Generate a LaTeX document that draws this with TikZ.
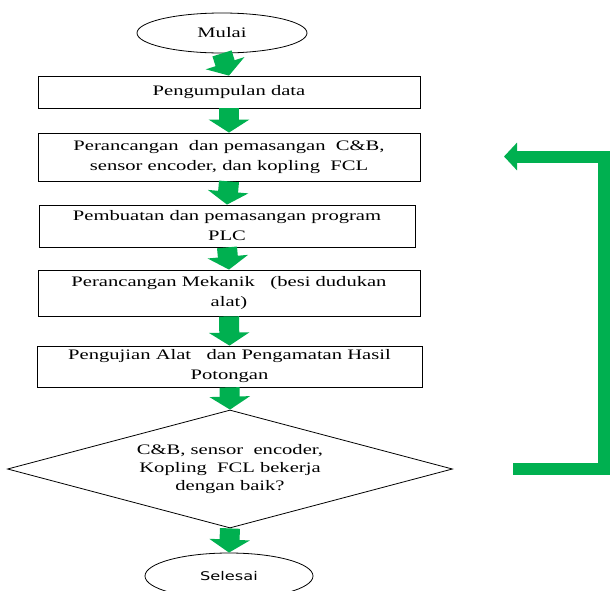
\documentclass[tikz,border=0pt]{standalone}
\usepackage{fontspec}
\setmainfont{Liberation Serif}
\newfontfamily\boxfont[FakeStretch=1.42]{Liberation Serif}
\newfontfamily\endfont[FakeStretch=1.35]{DejaVu Sans}
\usetikzlibrary{shapes.geometric,arrows.meta}
\definecolor{flowgreen}{HTML}{00B050}

\begin{document}
\begin{tikzpicture}[x=1pt,y=-1pt,
	process/.style={draw,line width=0.8pt,minimum width=382pt,inner sep=0pt,align=center,font=\boxfont\fontsize{14.5}{20}\selectfont},
	terminal/.style={draw,ellipse,line width=0.8pt,inner sep=0pt},
	decision/.style={draw,diamond,shape aspect=3.77,line width=0.8pt,inner sep=0pt,minimum width=445pt,minimum height=118pt,align=center,font=\boxfont\fontsize{14.5}{18}\selectfont},
	fatarrow/.style={flowgreen,line width=20pt,-{Triangle[width=40pt,length=13pt]}}]
	\useasboundingbox (0,0) rectangle (611,590);
	\clip (0,0) rectangle (611,590);
	\node[terminal,minimum width=170pt,minimum height=40pt,font=\boxfont\fontsize{14.5}{20}\selectfont] (mulai) at (222,33) {Mulai};
	\node[process,minimum height=32pt] (data) at (229,92) {Pengumpulan data};
	\node[process,minimum height=48pt] (rancang) at (229,157) {Perancangan~ dan pemasangan~ C\&B,\\sensor encoder, dan kopling~ FCL};
	\node[process,minimum height=42pt,minimum width=376pt] (program) at (227,226) {Pembuatan dan pemasangan program\\PLC};
	\node[process,minimum height=46pt] (mekanik) at (229,293) {Perancangan Mekanik~~ (besi dudukan\\alat)};
	\node[process,minimum height=41pt,minimum width=385pt] (uji) at (229.5,366.5) {Pengujian Alat~~ dan Pengamatan Hasil\\Potongan};
	\node[decision] (cek) at (230,469) {C\&B, sensor~ encoder,\\Kopling~ FCL bekerja\\dengan baik?};
	\node[terminal,minimum width=168pt,minimum height=46pt,font=\endfont\fontsize{12}{14}\selectfont] (selesai) at (229,576) {Selesai};
	% green arrows
	\draw[fatarrow] (mulai.south) -- (data.north);
	\draw[fatarrow] (data.south) -- (rancang.north);
	\draw[fatarrow] (rancang.south) -- (program.north);
	\draw[fatarrow] (program.south) -- (mekanik.north);
	\draw[fatarrow] (mekanik.south) -- (uji.north);
	\draw[fatarrow] (uji.south) -- (cek.north);
	\draw[fatarrow] (cek.south) -- (selesai.north);
	% loop back
	\coordinate (back) at (513,469);
	\coordinate (corner) at (603.5,156.5);
	\coordinate (tip) at (504,156.5);
	\draw[flowgreen,line width=12pt,-{Triangle[width=27pt,length=13pt]}] (back) -| (corner) -- (tip);
\end{tikzpicture}
\end{document}
